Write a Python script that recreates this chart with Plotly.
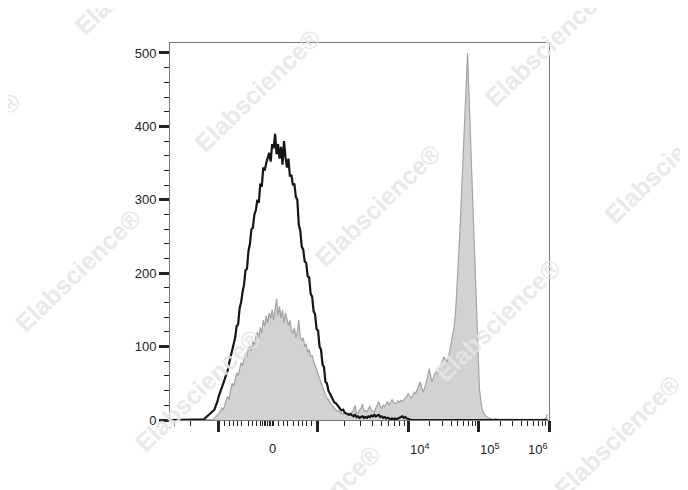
import numpy as np
import plotly.graph_objects as go

# ---------------- data (histogram counts per display channel, 0..255) ----------------
channels = list(range(256))

# black open histogram (control)
black_counts = (
    [0] * 23 +
    [1, 3, 5, 6, 8, 10, 12, 14, 20, 25, 33, 38, 44, 50, 56, 62, 68, 78, 86, 95,      # 23-42
     105, 112, 128, 130, 152, 160, 174, 184, 204, 206, 230, 240, 260, 262, 280, 286,  # 43-58
     300, 296, 322, 318, 344, 340, 350, 356, 364, 352, 376, 370, 390, 362, 376, 356,  # 59-74
     372, 348, 380, 358, 344, 356, 332, 334, 320, 322, 304, 300, 266, 258, 236, 232,  # 75-90
     216, 214, 196, 194, 172, 168, 148, 144, 124, 122, 100, 96, 76, 72, 52, 50,       # 91-106
     40, 36, 32, 28, 24, 23, 20, 17, 15, 13, 14, 10, 9, 8, 7, 8,                       # 107-122
     6, 5, 7, 4, 5, 3, 4, 5, 3, 4, 3, 5, 4, 6, 5, 7,                                   # 123-138
     5, 6, 7, 4, 5, 3, 4, 2, 3, 2, 1, 2, 1, 2, 1, 2,                                   # 139-154
     3, 4, 5, 3, 4, 2, 1] +                                                            # 155-161
    [0] * 94
)

# gray filled histogram (stained sample)
gray_counts = (
    [0] * 29 +
    [1, 2, 4, 6, 9, 12, 16, 14, 22, 27, 32, 28, 42, 50, 46, 58,                        # 29-44
     64, 60, 72, 78, 74, 85, 92, 86, 98, 100, 94, 108, 102, 113, 120, 112,             # 45-60
     126, 118, 136, 128, 142, 132, 146, 138, 150, 136, 148, 165, 142, 155, 138, 150,   # 61-76
     132, 146, 138, 128, 136, 122, 118, 126, 112, 120, 136, 114, 108, 112, 100, 104,   # 77-92
     92, 96, 86, 88, 80, 74, 70, 62, 56, 52, 44, 40, 34, 30, 28, 24,                   # 93-108
     20, 18, 16, 14, 12, 13, 10, 9, 8, 10, 9, 7, 9, 8, 11, 14,                          # 109-124
     20, 10, 9, 14, 16, 22, 12, 13, 11, 15, 19, 13, 12, 11, 16, 20,                    # 125-140
     25, 18, 16, 20, 18, 22, 25, 20, 24, 28, 24, 22, 23, 26, 24, 27,                   # 141-156
     25, 28, 30, 32, 36, 32, 30, 34, 38, 36, 42, 46, 52, 44, 38, 44,                   # 157-172
     50, 58, 70, 60, 52, 58, 64, 66, 62, 70, 75, 80, 86, 82, 79, 84,                   # 173-188
     95, 104, 112, 128, 150, 180, 225, 265, 312, 360, 408, 455, 500, 440, 380, 320,    # 189-204
     260, 200, 140, 75, 42, 25, 14, 9, 6, 4, 3, 2, 2, 1, 1, 2,                          # 205-220
     1, 1, 0, 1, 0, 0, 1, 0, 0, 0, 1, 0, 0, 0, 0, 0,                                    # 221-236
     0, 1, 0, 0, 0, 0, 1, 0, 0, 0, 0, 0, 0, 1, 0, 0,                                    # 237-252
     1, 3, 8]                                                                           # 253-255
)

# axis scale anchors: display channel of each positive decade (biexponential display)
decade_exponents = [3, 4, 5, 6]
decade_channels = [99.5, 161.3, 208.7, 256.0]
zero_channel = 66.0
# linear-region tick offsets (channels) around zero
near_zero_offsets = [7.4, 10.4, 13.1, 17.5, 20.7, 23.2, 26.1, 29.3]
cluster_offsets = [-4.6, -3.5, -2.5, -1.5, 0.0, 1.2, 2.2, 3.2, 4.0]

x_tick_labels = ["0", "10<sup>4</sup>", "10<sup>5</sup>", "10<sup>6</sup>"]
x_tick_label_values = [0, 1e4, 1e5, 1e6]

y_ticks = [0, 100, 200, 300, 400, 500]

watermark_text = "Elabscience®"
watermark_px = [(138, -27), (258, 90), (548, 45), (378, 205), (668, 162), (-42, 153),
                (78, 270), (498, 320), (198, 390), (318, 507), (618, 437)]


def to_channel(v):
    """value -> display channel (biexponential-like axis)"""
    if v == 0:
        return zero_channel
    lg = np.log10(abs(v))
    pos = np.interp(lg, decade_exponents, decade_channels)
    return zero_channel + np.sign(v) * (pos - zero_channel)


# major ticks
major_vals = [-1e3, 1e3, 1e4, 1e5, 1e6]
major_ch = [to_channel(v) for v in major_vals]
major_ch += [zero_channel - 4.6, zero_channel, zero_channel + 4.0]

# minor ticks
minor_ch = []
for dec in [3, 4, 5]:
    for m in range(2, 10):
        minor_ch.append(to_channel(m * 10 ** dec))
for m in range(2, 4):
    minor_ch.append(to_channel(-m * 1e3))
for o in near_zero_offsets:
    minor_ch += [zero_channel - o, zero_channel + o]
for o in cluster_offsets:
    minor_ch.append(zero_channel + o)
minor_ch = [c for c in minor_ch if 0 <= c <= 256]

fig = go.Figure()

fig.add_trace(go.Scatter(
    x=channels, y=gray_counts, mode="lines",
    line=dict(color="#a3a3a3", width=1.2),
    fill="tozeroy", fillcolor="#d2d2d2",
    showlegend=False, hoverinfo="skip"))

fig.add_trace(go.Scatter(
    x=channels, y=black_counts, mode="lines",
    line=dict(color="#151515", width=2.2),
    showlegend=False, hoverinfo="skip"))

# page body has an 8px margin: figure is placed at (8, 8)
OFF = 8
W, H = 680, 482
L, R, T, B = 170 - OFF, 549.3 - OFF, 42.7 - OFF, 420.5 - OFF

fig.update_layout(
    width=W, height=H,
    margin=dict(l=L, r=W - R, t=T, b=H - B, pad=0),
    paper_bgcolor="white", plot_bgcolor="white",
    font=dict(family="Arial, Liberation Sans, sans-serif", size=13, color="#222"),
)

fig.update_xaxes(
    range=[0, 256], showgrid=False, zeroline=False,
    showline=True, mirror=True, linecolor="#7a7a7a", linewidth=1,
    tickmode="array", tickvals=major_ch, ticktext=[""] * len(major_ch),
    ticks="outside", ticklen=11, tickwidth=2.5, tickcolor="#222",
    showticklabels=False,
    minor=dict(tickmode="array", tickvals=minor_ch, ticks="outside",
               ticklen=5, tickwidth=1.2, tickcolor="#222"),
)

fig.update_yaxes(
    range=[0, 513.6], showgrid=False, zeroline=False,
    showline=True, mirror=True, linecolor="#7a7a7a", linewidth=1,
    tickmode="array", tickvals=y_ticks, ticktext=[str(v) for v in y_ticks],
    ticks="outside", ticklen=10, tickwidth=2.5, tickcolor="#222",
    tickfont=dict(size=13, color="#222"),
    minor=dict(dtick=20, ticks="outside", ticklen=5, tickwidth=1.2, tickcolor="#222"),
)

# x tick labels (FlowJo-style placement)
anchors = ["center", "left", "left", "right"]
shifts = [5, -1, -1, 1]
for lab, v, a, s in zip(x_tick_labels, x_tick_label_values, anchors, shifts):
    fig.add_annotation(x=to_channel(v), xref="x", y=0, yref="paper",
                       text=lab, showarrow=False, xanchor=a, yanchor="top",
                       xshift=s, yshift=-19,
                       font=dict(size=13, color="#222"))

# watermarks
for (px, py) in watermark_px:
    fig.add_annotation(x=(px - OFF - L) / (R - L), y=(B - (py - OFF)) / (B - T),
                       xref="paper", yref="paper", text="<b>" + watermark_text + "</b>",
                       showarrow=False, textangle=-44, xanchor="center", yanchor="middle",
                       font=dict(size=25, color="#e6e6e6"), opacity=0.85)

fig.write_html("out.html")
